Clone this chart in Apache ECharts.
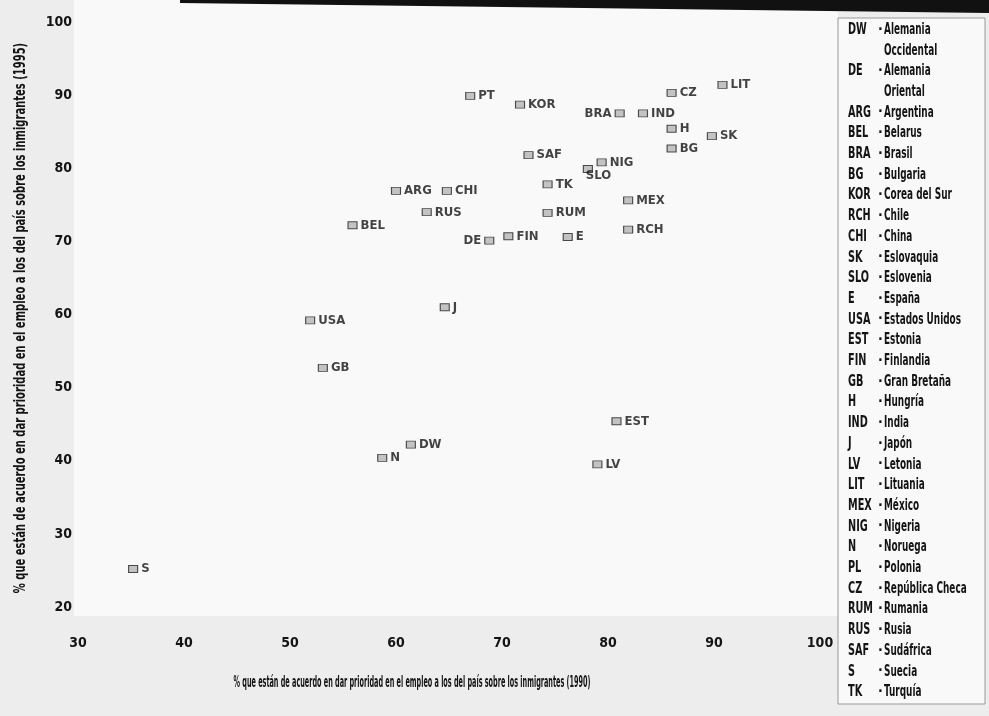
<!DOCTYPE html>
<html>
<head>
<meta charset="utf-8">
<script src="https://cdn.jsdelivr.net/npm/echarts@6/dist/echarts.min.js"></script>
<style>
html, body { margin: 0; padding: 0; background: #ededed; }
#main { width: 989px; height: 716px; }
</style>
</head>
<body>
<div id="main"></div>
<script>
// códigos de país y valores (1990, 1995)
var codes = ['PT', 'KOR', 'BRA', 'IND', 'CZ', 'LIT', 'H', 'SK', 'BG', 'SAF', 'NIG', 'SLO', 'TK', 'ARG', 'CHI',
    'MEX', 'RUS', 'RUM', 'BEL', 'RCH', 'DE', 'FIN', 'E', 'J', 'USA', 'GB', 'EST', 'DW', 'N', 'LV', 'S'];
var v1990 = [67.0, 71.7, 81.1, 83.3, 86.0, 90.8, 86.0, 89.8, 86.0, 72.5, 79.4, 78.1, 74.3, 60.0, 64.8,
    81.9, 62.9, 74.3, 55.9, 81.9, 68.8, 70.6, 76.2, 64.6, 51.9, 53.1, 80.8, 61.4, 58.7, 79.0, 35.2];
var v1995 = [89.9, 88.7, 87.5, 87.5, 90.3, 91.4, 85.4, 84.4, 82.7, 81.8, 80.8, 79.9, 77.8, 76.9, 76.9,
    75.6, 74.0, 73.9, 72.2, 71.6, 70.1, 70.7, 70.6, 61.0, 59.2, 52.7, 45.4, 42.2, 40.4, 39.5, 25.2];
var labelLeft = ['BRA', 'DE'];
var labelBelow = ['SLO'];

var xTicks = [30, 40, 50, 60, 70, 80, 90, 100];
var yTicks = [20, 30, 40, 50, 60, 70, 80, 90, 100];

var xTitle = '% que están de acuerdo en dar prioridad en el empleo a los del país sobre los inmigrantes (1990)';
var yTitle = '% que están de acuerdo en dar prioridad en el empleo a los del país sobre los inmigrantes (1995)';

// leyenda
var legCodes = ['DW', '', 'DE', '', 'ARG', 'BEL', 'BRA', 'BG', 'KOR', 'RCH', 'CHI', 'SK', 'SLO', 'E', 'USA', 'EST', 'FIN',
    'GB', 'H', 'IND', 'J', 'LV', 'LIT', 'MEX', 'NIG', 'N', 'PL', 'CZ', 'RUM', 'RUS', 'SAF', 'S', 'TK'];
var legNames = ['Alemania', 'Occidental', 'Alemania', 'Oriental', 'Argentina', 'Belarus', 'Brasil', 'Bulgaria',
    'Corea del Sur', 'Chile', 'China', 'Eslovaquia', 'Eslovenia', 'España', 'Estados Unidos', 'Estonia', 'Finlandia',
    'Gran Bretaña', 'Hungría', 'India', 'Japón', 'Letonia', 'Lituania', 'México', 'Nigeria', 'Noruega', 'Polonia',
    'República Checa', 'Rumania', 'Rusia', 'Sudáfrica', 'Suecia', 'Turquía'];

var FONT = '"DejaVu Sans Condensed", "Liberation Sans Narrow", sans-serif';
var INK = '#141414';

var points = codes.map(function (c, i) {
    var p = { name: c, value: [v1990[i], v1995[i]] };
    if (labelLeft.indexOf(c) >= 0) p.label = { position: 'left' };
    if (labelBelow.indexOf(c) >= 0) p.label = { position: [3, 4] };
    return p;
});

var graphics = [
    { type: 'rect', z: -10, shape: { x: 74, y: 0, width: 764, height: 616 }, style: { fill: '#f9f9f9' } },
    { type: 'polygon', shape: { points: [[180, 0], [989, 0], [989, 13], [180, 3]] }, style: { fill: '#111' } },
    { type: 'rect', shape: { x: 838, y: 18, width: 147, height: 686 }, style: { fill: '#f9f9f9', stroke: '#999', lineWidth: 1 } },
    // títulos de los ejes (tipografía condensada)
    { type: 'text', x: 412, y: 683, scaleX: 0.48,
      style: { text: xTitle, font: 'bold 15px ' + FONT, fill: INK, align: 'center', verticalAlign: 'middle' } },
    { type: 'text', x: 21, y: 318, rotation: Math.PI / 2, scaleX: 0.74,
      style: { text: yTitle, font: 'bold 15px ' + FONT, fill: INK, align: 'center', verticalAlign: 'middle' } }
];
legCodes.forEach(function (c, i) {
    var y = 30 + i * 20.7;
    graphics.push({ type: 'text', x: 848, y: y, scaleX: 0.72,
        style: { text: c, font: 'bold 15px ' + FONT, fill: INK, verticalAlign: 'middle' } });
    if (c) {
        graphics.push({ type: 'text', x: 878, y: y,
            style: { text: '·', font: 'bold 14px ' + FONT, fill: INK, verticalAlign: 'middle' } });
    }
    graphics.push({ type: 'text', x: 884, y: y, scaleX: 0.66,
        style: { text: legNames[i], font: 'bold 15px ' + FONT, fill: INK, verticalAlign: 'middle' } });
});

var myChart = echarts.init(document.getElementById('main'));
myChart.setOption({
    backgroundColor: '#ededed',
    animation: false,
    grid: { left: 78, right: 169, top: 22, bottom: 109, outerBoundsMode: 'none', containLabel: false },
    xAxis: {
        type: 'value', min: 30, max: 100, interval: 10,
        axisLine: { show: false }, axisTick: { show: false }, splitLine: { show: false },
        axisLabel: {
            margin: 29, fontFamily: FONT, fontWeight: 'bold', fontSize: 14, color: INK,
            formatter: function (v) { return xTicks.indexOf(v) >= 0 ? v : ''; }
        }
    },
    yAxis: {
        type: 'value', min: 20, max: 100, interval: 10,
        axisLine: { show: false }, axisTick: { show: false }, splitLine: { show: false },
        axisLabel: {
            margin: 6, fontFamily: FONT, fontWeight: 'bold', fontSize: 14, color: INK,
            formatter: function (v) { return yTicks.indexOf(v) >= 0 ? v : ''; }
        }
    },
    series: [{
        type: 'scatter',
        symbol: 'rect',
        symbolSize: [9, 7],
        itemStyle: { color: '#b5b5b5', borderColor: '#222', borderWidth: 1 },
        label: {
            show: true, position: 'right', distance: 3,
            formatter: '{b}', fontFamily: FONT, fontWeight: 'bold', fontSize: 13, color: INK
        },
        data: points
    }],
    graphic: graphics
});
</script>
</body>
</html>
